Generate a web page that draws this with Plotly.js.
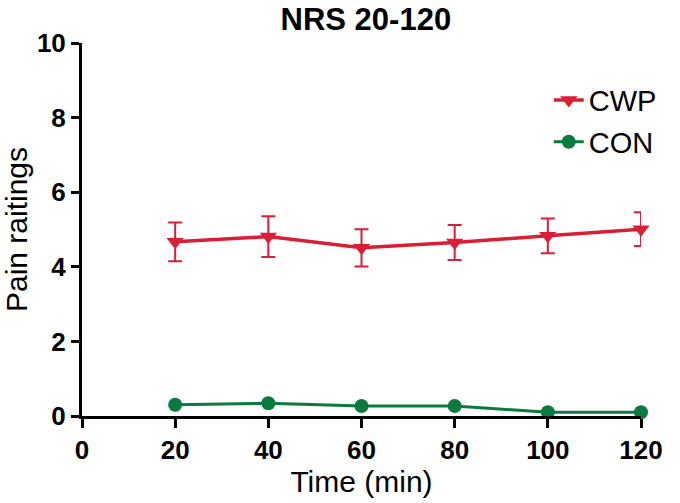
<!DOCTYPE html>
<html>
<head>
<meta charset="utf-8">
<script src="https://cdn.plot.ly/plotly-3.0.1.min.js"></script>
<style>html,body{margin:0;padding:0;background:#fff;}#chart{width:680px;height:503px;}</style>
</head>
<body>
<div id="chart"></div>
<script>
var times = [20, 40, 60, 80, 100, 120];
var cwpMean = [4.67, 4.81, 4.51, 4.65, 4.83, 5.01];
var cwpErr = [0.52, 0.545, 0.50, 0.47, 0.465, 0.45];
var conMean = [0.30, 0.34, 0.27, 0.27, 0.10, 0.10];
var conErr = [0.05, 0.05, 0.05, 0.05, 0.03, 0.03];
var xTicks = [0, 20, 40, 60, 80, 100, 120];
var yTicks = [0, 2, 4, 6, 8, 10];

var red = '#d91e36';
var green = '#0a7a3f';

var traces = [
  {
    x: times, y: cwpMean, name: 'CWP', type: 'scatter', mode: 'lines+markers',
    legendgroup: 'a', cliponaxis: false,
    line: {color: red, width: 3.5},
    marker: {symbol: 'triangle-down', size: 15, color: red},
    error_y: {type: 'data', array: cwpErr, visible: true, color: red, thickness: 2, width: 7}
  },
  {
    x: times, y: conMean, name: 'CON', type: 'scatter', mode: 'lines+markers',
    legendgroup: 'b', cliponaxis: false,
    line: {color: green, width: 3},
    marker: {symbol: 'circle', size: 14, color: green},
    error_y: {type: 'data', array: conErr, visible: true, color: green, thickness: 2, width: 5}
  }
];

var layout = {
  width: 680, height: 503,
  margin: {l: 82, r: 38.5, t: 43, b: 87},
  paper_bgcolor: '#ffffff', plot_bgcolor: '#ffffff',
  font: {family: 'Liberation Sans, Arial, sans-serif', color: '#000'},
  title: {text: 'NRS 20-120', font: {size: 31, weight: 'bold', color: '#000'}, x: 0.538, xanchor: 'center', y: 0.962, yanchor: 'middle'},
  xaxis: {
    range: [0, 120], tickvals: xTicks, ticktext: xTicks.map(String),
    showgrid: false, zeroline: false, showline: true, linecolor: '#000', linewidth: 3,
    ticks: 'outside', ticklen: 9, tickwidth: 3, tickcolor: '#000',
    tickfont: {size: 26, weight: 'bold', color: '#000'},
    title: {text: 'Time (min)', font: {size: 30}, standoff: 1}
  },
  yaxis: {
    range: [0, 10], tickvals: yTicks, ticktext: yTicks.map(String),
    showgrid: false, zeroline: false, showline: true, linecolor: '#000', linewidth: 3,
    ticks: 'outside', ticklen: 8, tickwidth: 3, tickcolor: '#000',
    tickfont: {size: 26, weight: 'bold', color: '#000'},
    title: {text: 'Pain raitings', font: {size: 30}, standoff: 8}
  },
  legend: {x: 0.835, y: 0.915, xanchor: 'left', yanchor: 'top', font: {size: 29, color: '#000'},
           bgcolor: 'rgba(0,0,0,0)', traceorder: 'grouped', tracegroupgap: 1},
  showlegend: true
};

Plotly.newPlot('chart', traces, layout, {displayModeBar: false, staticPlot: true});
</script>
</body>
</html>
